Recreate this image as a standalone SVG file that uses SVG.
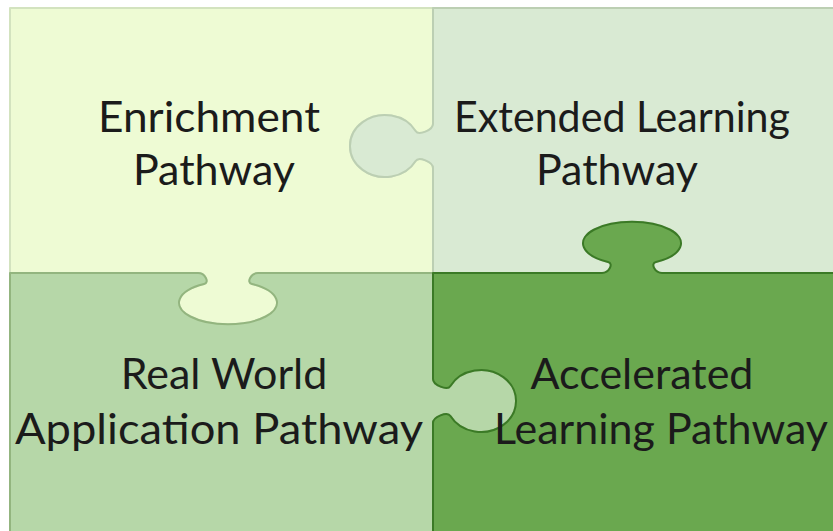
<svg xmlns="http://www.w3.org/2000/svg" width="833" height="531" viewBox="0 0 833 531">
<style>
.piece{stroke-width:2;stroke-linejoin:round}
.lbl{font-family:Lato,"Liberation Sans",sans-serif;font-size:43px;fill:#1b1b1b;text-anchor:middle}
</style>
<rect x="0" y="0" width="833" height="531" fill="#ffffff"/>
<g id="enrichment">
<path class="piece" fill="#eefbd4" stroke="#d3e3bf" d="M10,8 H433 V124 C433,130 418.7,136 415.6,131 A35,31 0 1 0 415.6,161 C418.7,156 433,162 433,168 V273 H258 C251,273 246,282.5 252,284 A49,21.5 0 1 1 204,284 C210,282.5 205,273 198,273 H10 Z"/>
<text class="lbl" x="209" y="132" textLength="222" lengthAdjust="spacingAndGlyphs">Enrichment</text>
<text class="lbl" x="214" y="185">Pathway</text>
</g>
<g id="extended">
<path class="piece" fill="#d9ead3" stroke="#bccfb3" d="M433,8 H834 V273 H662 C655,273 650,263.5 656,262 A49,21.5 0 1 0 608,262 C614,263.5 609,273 602,273 H433 V168 C433,162 418.7,156 415.6,161 A35,31 0 1 1 415.6,131 C418.7,136 433,130 433,124 Z"/>
<text class="lbl" x="622" y="132" textLength="336" lengthAdjust="spacingAndGlyphs">Extended Learning</text>
<text class="lbl" x="617" y="185">Pathway</text>
</g>
<g id="realworld">
<path class="piece" fill="#b6d7a8" stroke="#93b57f" d="M10,273 H198 C205,273 210,282.5 204,284 A49,21.5 0 1 0 252,284 C246,282.5 251,273 258,273 H433 V379 C433,385 447.3,391 450.4,386 A35,31 0 1 1 450.4,416 C447.3,411 433,417 433,423 V532 H10 Z"/>
<text class="lbl" x="224" y="389">Real World</text>
<text class="lbl" x="219" y="444" textLength="408" lengthAdjust="spacingAndGlyphs">Application Pathway</text>
</g>
<g id="accelerated">
<path class="piece" fill="#6aa84f" stroke="#3b7a26" d="M433,273 H602 C609,273 614,263.5 608,262 A49,21.5 0 1 1 656,262 C650,263.5 655,273 662,273 H834 V532 H433 V423 C433,417 447.3,411 450.4,416 A35,31 0 1 0 450.4,386 C447.3,391 433,385 433,379 Z"/>
<text class="lbl" x="642" y="389">Accelerated</text>
<text class="lbl" x="661" y="444">Learning Pathway</text>
</g>
<g id="connectors"></g>
</svg>
